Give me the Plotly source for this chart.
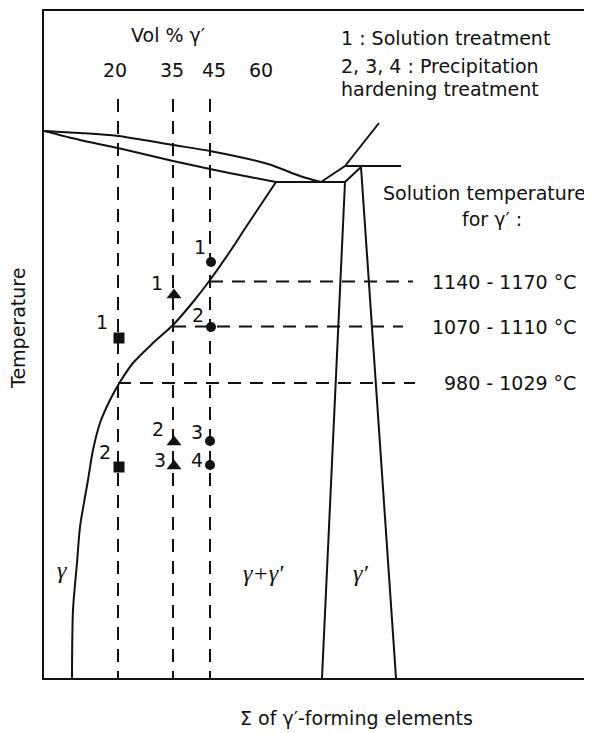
import plotly.graph_objects as go

# ---- schematic phase-diagram data (arbitrary composition / temperature units) ----
liq_x = [0, 36, 74, 129, 166, 224, 256, 277]
liq_y = [547, 545, 542, 533, 527, 514, 502, 496]
sol_x = [0, 36, 74, 129, 166, 206, 232]
sol_y = [547, 538, 530, 517, 509, 501, 496]
perit_x = [232, 301]
perit_y = [496, 496]
gp_liq_x = [277, 301, 335]
gp_liq_y = [496, 512, 555]
gp_top_x = [301, 357]
gp_top_y = [512, 512]
gp_diag_x = [301, 317]
gp_diag_y = [496, 511]
gp_left_x = [301, 278]
gp_left_y = [496, 0]
gp_right_x = [317, 352]
gp_right_y = [511, 0]
solvus_x = [232, 200, 189, 166, 149, 129, 109, 89, 76, 66, 56, 49, 44, 41, 36, 33, 29, 28]
solvus_y = [496, 448, 431, 398, 376, 353, 335, 315, 296, 278, 255, 228, 198, 181, 151, 115, 68, 0]

vol_labels = ["20", "35", "45", "60"]
vol_label_x = [71, 128, 170, 217]
vol_line_x = [74, 129, 166]
vol_line_top = 579

sol_temp_labels = ["1140\u00a0-\u00a01170 °C", "1070\u00a0-\u00a01110 °C", "980\u00a0-\u00a01029 °C"]
sol_temp_y = [396.5, 351.5, 295]
sol_temp_x0 = [166, 129, 74]
sol_temp_x1 = [369, 359, 371]

sq_x = [75, 75]
sq_y = [340, 211]
sq_lab = ["1", "2"]
sq_lab_x = [58, 61]
sq_lab_y = [356, 226]
tri_x = [130, 130, 130]
tri_y = [383, 236, 212]
tri_lab = ["1", "2", "3"]
tri_lab_x = [113, 114, 116]
tri_lab_y = [395, 249, 218]
cir_x = [167, 167, 166, 166]
cir_y = [416, 351, 237, 213]
cir_lab = ["1", "2", "3", "4"]
cir_lab_x = [156, 154, 153, 153]
cir_lab_y = [431, 363, 246, 218]

phase_labels = ["γ", "γ+γ′", "γ′"]
phase_x = [18, 219, 316]
phase_y = [108, 105, 105]

X_SPAN = 556
Y_SPAN = 667

FONT = "DejaVu Sans"
FS = 19
BLK = "#111111"

fig = go.Figure()

def solid(x, y, spline=False):
    fig.add_trace(go.Scatter(x=x, y=y, mode="lines",
                             line=dict(color=BLK, width=2,
                                       shape="spline" if spline else "linear",
                                       smoothing=0.8 if spline else None),
                             hoverinfo="skip", showlegend=False))

def dashed(x, y, pattern):
    fig.add_trace(go.Scatter(x=x, y=y, mode="lines",
                             line=dict(color=BLK, width=2, dash=pattern),
                             hoverinfo="skip", showlegend=False))

for vx in vol_line_x:
    dashed([vx, vx], [vol_line_top, 0], "13px,9px")
for y, x0, x1 in zip(sol_temp_y, sol_temp_x0, sol_temp_x1):
    dashed([x0, x1], [y, y], "13px,9px")

solid(liq_x, liq_y, spline=True)
solid(sol_x, sol_y, spline=True)
solid(perit_x, perit_y)
solid(gp_liq_x, gp_liq_y)
solid(gp_top_x, gp_top_y)
solid(gp_diag_x, gp_diag_y)
solid(gp_left_x, gp_left_y)
solid(gp_right_x, gp_right_y)
solid(solvus_x, solvus_y, spline=True)

fig.add_trace(go.Scatter(x=sq_x, y=sq_y, mode="markers",
                         marker=dict(symbol="square", size=11, color=BLK),
                         hoverinfo="skip", showlegend=False))
fig.add_trace(go.Scatter(x=tri_x, y=tri_y, mode="markers",
                         marker=dict(symbol="triangle-up", size=13, color=BLK),
                         hoverinfo="skip", showlegend=False))
fig.add_trace(go.Scatter(x=cir_x, y=cir_y, mode="markers",
                         marker=dict(symbol="circle", size=10, color=BLK),
                         hoverinfo="skip", showlegend=False))

ann = []
def txt(x, y, s, size=FS, xanchor="center", family=FONT, italic=False):
    ann.append(dict(x=x / X_SPAN, y=y / Y_SPAN, xref="paper", yref="paper", text=s,
                    showarrow=False, xanchor=xanchor, yanchor="middle",
                    font=dict(family=family, size=size, color=BLK,
                              style="italic" if italic else "normal")))

for lab, lx, ly in zip(sq_lab, sq_lab_x, sq_lab_y):
    txt(lx, ly, lab)
for lab, lx, ly in zip(tri_lab, tri_lab_x, tri_lab_y):
    txt(lx, ly, lab)
for lab, lx, ly in zip(cir_lab, cir_lab_x, cir_lab_y):
    txt(lx, ly, lab)
for lab, lx in zip(vol_labels, vol_label_x):
    txt(lx, 608, lab)
txt(124, 643, "Vol % γ′")
for lab, ly in zip(sol_temp_labels, sol_temp_y):
    txt(534, ly, lab, xanchor="right")
txt(295, 640, "1 : Solution treatment", xanchor="left")
txt(295, 612, "2, 3, 4 : Precipitation", xanchor="left")
txt(295, 589, "hardening treatment", xanchor="left")
txt(544, 485, "Solution temperature", xanchor="right")
txt(448, 459, "for γ′ :")
for lab, px, py in zip(phase_labels, phase_x, phase_y):
    txt(px, py, lab, size=24, family="Liberation Serif", italic=True)
txt(312, -40, "Σ of γ′-forming elements")
ann.append(dict(x=-26 / X_SPAN, y=349 / Y_SPAN, xref="paper", yref="paper",
                text="Temperature", showarrow=False, textangle=-90,
                xanchor="center", yanchor="middle",
                font=dict(family=FONT, size=FS, color=BLK)))

# page body has an 8px margin: compensate so the frame lands where the reference has it
fig.update_layout(
    width=592, height=725,
    margin=dict(l=36, r=0, t=3, b=55),
    paper_bgcolor="white", plot_bgcolor="white",
    annotations=ann,
    xaxis=dict(range=[0, X_SPAN], showgrid=False, zeroline=False, showticklabels=False,
               ticks="", showline=True, mirror=True, linecolor=BLK, linewidth=2),
    yaxis=dict(range=[0, Y_SPAN], showgrid=False, zeroline=False, showticklabels=False,
               ticks="", showline=True, linecolor=BLK, linewidth=2),
)
fig.write_html("out.html")
